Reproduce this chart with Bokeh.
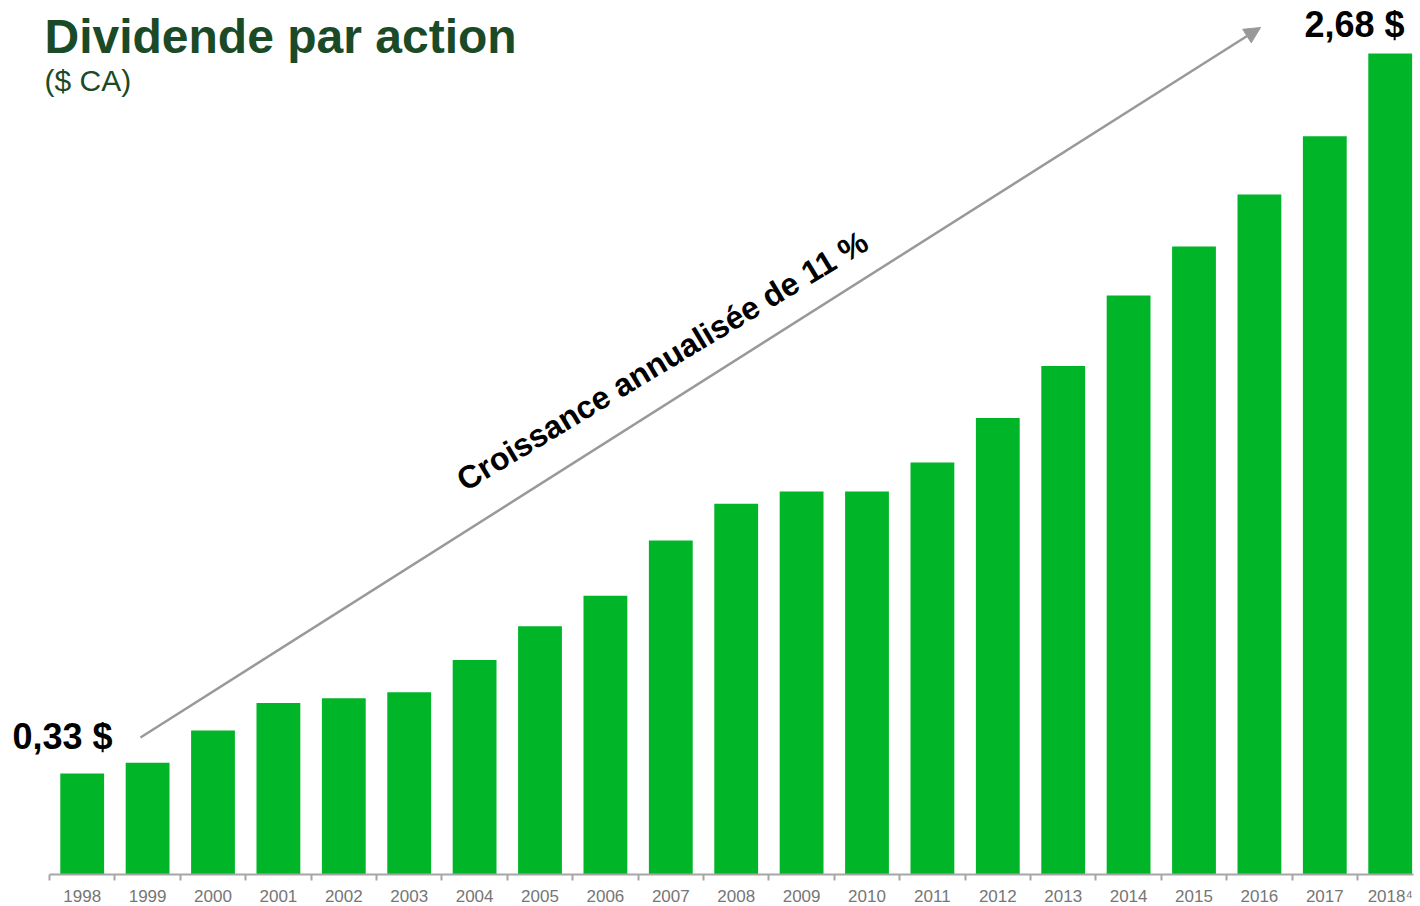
import math
from bokeh.plotting import figure
from bokeh.models import Range1d, FixedTicker, Label, Arrow, NormalHead
from bokeh.embed import file_html
from bokeh.resources import INLINE

# ---- data ----
years = [1998, 1999, 2000, 2001, 2002, 2003, 2004, 2005, 2006, 2007, 2008,
         2009, 2010, 2011, 2012, 2013, 2014, 2015, 2016, 2017, 2018]
dividends = [0.33, 0.365, 0.47, 0.56, 0.575, 0.595, 0.70, 0.81, 0.91, 1.09, 1.21,
             1.25, 1.25, 1.345, 1.49, 1.66, 1.89, 2.05, 2.22, 2.41, 2.68]
title_text = "Dividende par action"
subtitle_text = "($ CA)"
first_label = "0,33 $"
last_label = "2,68 $"
growth_text = "Croissance annualisée de 11 %"
footnote_mark = "\u2074"   # superscript 4 on the last year

# ---- layout ----
CAT_PX = 65.4          # pixels per year
LEFT_PAD = 49          # pixels from page edge to first category boundary
FRAME_W = 1418
FRAME_H = 874
PX_PER_UNIT = 306.34
FONT = "Liberation Sans"
GREEN = "#00b628"
DARK_GREEN = "#1a4a26"
GREY = "#999999"

first_edge = years[0] - 0.5
x_start = first_edge - LEFT_PAD / CAT_PX
x_end = x_start + FRAME_W / CAT_PX
axis_end = first_edge + (1413 - LEFT_PAD) / CAT_PX

p = figure(frame_width=FRAME_W, frame_height=FRAME_H,
           x_range=Range1d(x_start, x_end),
           y_range=Range1d(0, FRAME_H / PX_PER_UNIT),
           output_backend="svg", toolbar_location=None,
           y_axis_location=None,
           min_border_left=0, min_border_right=0,
           min_border_top=0, min_border_bottom=0)
p.outline_line_color = None
p.grid.visible = False
p.background_fill_color = "white"
p.border_fill_color = "white"

p.vbar(x=years, top=dividends, width=0.67, fill_color=GREEN, line_color=None)

xa = p.xaxis[0]
xa.ticker = FixedTicker(ticks=years, minor_ticks=[y - 0.5 for y in years])
xa.bounds = (first_edge, axis_end)
xa.major_label_overrides = {years[-1]: str(years[-1]) + footnote_mark}
xa.axis_line_color = "#a6a6a6"
xa.axis_line_width = 2
xa.major_tick_in = 0
xa.major_tick_out = 0
xa.minor_tick_in = 0
xa.minor_tick_out = 6
xa.minor_tick_line_color = "#a6a6a6"
xa.minor_tick_line_width = 2
xa.major_label_text_font = FONT
xa.major_label_text_font_size = "17px"
xa.major_label_text_color = "#767676"
xa.major_label_standoff = 6


def dx(px):
    return first_edge + (px - LEFT_PAD) / CAT_PX


def dy(py):
    return (FRAME_H - py) / PX_PER_UNIT


# ---- annotations ----
p.add_layout(Label(x=dx(44), y=dy(36), text=title_text,
                   text_font=FONT, text_font_style="bold", text_font_size="48px",
                   text_color=DARK_GREEN, text_baseline="alphabetic"))
p.add_layout(Label(x=dx(44), y=dy(80), text=subtitle_text,
                   text_font=FONT, text_font_size="30px",
                   text_color=DARK_GREEN, text_baseline="alphabetic"))
p.add_layout(Label(x=dx(12), y=dy(736), text=first_label,
                   text_font=FONT, text_font_style="bold", text_font_size="36px",
                   text_color="black", text_baseline="alphabetic"))
p.add_layout(Label(x=dx(1404), y=dy(24), text=last_label,
                   text_font=FONT, text_font_style="bold", text_font_size="36px",
                   text_color="black", text_baseline="alphabetic", text_align="right"))
p.add_layout(Arrow(end=NormalHead(size=16, fill_color=GREY, line_color=GREY),
                   x_start=dx(140), y_start=dy(737), x_end=dx(1260), y_end=dy(27),
                   line_color=GREY, line_width=2.5))
p.add_layout(Label(x=dx(459), y=dy(482), text=growth_text, angle=math.radians(31),
                   text_font=FONT, text_font_style="bold", text_font_size="32px",
                   text_color="black", text_baseline="alphabetic"))

open("out.html", "w").write(file_html(p, INLINE))
